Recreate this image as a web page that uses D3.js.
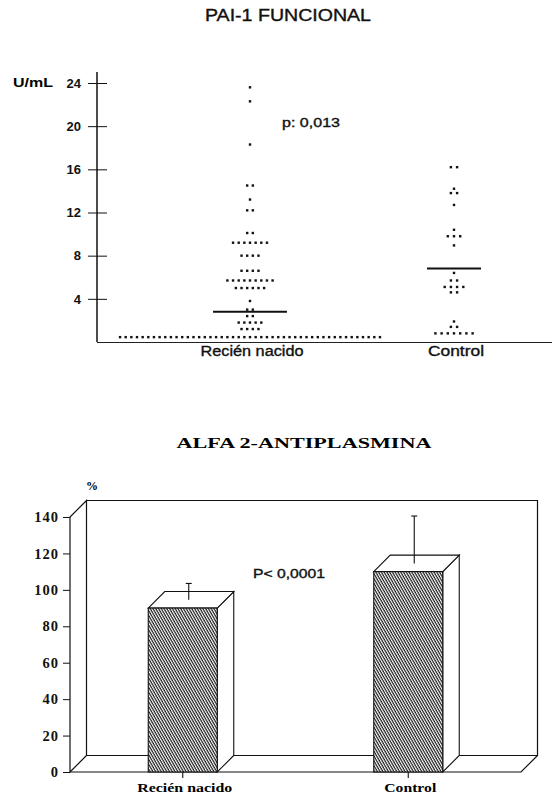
<!DOCTYPE html>
<html>
<head>
<meta charset="utf-8">
<script src="https://cdn.jsdelivr.net/npm/d3@7"></script>
<style>
  body { margin: 0; background: #fff; }
  svg { display: block; }
</style>
</head>
<body>
<svg id="chart" width="557" height="798"></svg>
<script>
// PAI-1 funcional: each row is [value U/mL, number of dots on that row]
const paiCategories = ['Recién nacido', 'Control']
const nacidoRows = [[23.6, 1], [22.3, 1], [18.3, 1], [14.5, 2], [13.2, 1], [12.2, 2], [10.1, 2], [9.2, 7],
  [8.0, 4], [6.6, 4], [5.7, 9], [5.0, 6], [3.8, 1], [3.0, 2], [2.4, 2], [1.8, 5], [1.2, 4], [0.45, 47]]
const controlRows = [[16.2, 2], [14.2, 1], [13.8, 2], [12.7, 1], [10.4, 1], [9.8, 3], [8.95, 1],
  [6.4, 1], [5.7, 2], [5.1, 4], [4.6, 2], [1.9, 1], [1.4, 2], [0.8, 7]]
const paiMeans = [2.8, 6.8]
const paiTicks = [4, 8, 12, 16, 20, 24]

// Alfa 2-antiplasmina (%)
const alfaCategories = ['Recién nacido', 'Control']
const alfaValues = [90, 110]
const alfaErrors = [9, 26]
const alfaTicks = [0, 20, 40, 60, 80, 100, 120, 140]

const svg = d3.select('#chart')
const sans = "'Liberation Sans', Arial, sans-serif"
const serif = "'Liberation Serif', 'Times New Roman', serif"

// medium-weight look for the scanned sans labels
function medium(sel) {
  return sel.attr('fill', '#111').attr('stroke', '#111').attr('stroke-width', 0.35)
}

// ---------- top chart ----------
const y = d3.scaleLinear().domain([0, 24]).range([342, 83])
const x = d3.scalePoint().domain(paiCategories).range([250, 454])
const dotGap = [5.65, 6.2]
const meanHalf = [37, 27]

svg.append('text')
  .attr('x', 288).attr('y', 21)
  .attr('text-anchor', 'middle')
  .attr('font-family', sans).attr('font-size', 16)
  .attr('textLength', 166).attr('lengthAdjust', 'spacingAndGlyphs')
  .text('PAI-1 FUNCIONAL')
  .call(medium)

const yAxis = svg.append('g')
  .attr('transform', 'translate(97,0)')
  .call(d3.axisLeft(y).tickValues(paiTicks).tickSize(9).tickPadding(7))
yAxis.select('.domain').remove()
yAxis.selectAll('.tick line').attr('x1', 10).attr('stroke', '#111')
yAxis.selectAll('.tick text')
  .attr('font-family', sans).attr('font-size', 13).attr('font-weight', 'bold').attr('fill', '#111')

svg.append('line').attr('x1', 97).attr('x2', 97).attr('y1', 72).attr('y2', y(0))
  .attr('stroke', '#111').attr('stroke-width', 1.5)
svg.append('line').attr('x1', 97).attr('x2', 552).attr('y1', y(0) + 0.5).attr('y2', y(0) + 0.5)
  .attr('stroke', '#222').attr('stroke-width', 1.2)

svg.append('text')
  .attr('x', 13).attr('y', 87)
  .attr('font-family', sans).attr('font-size', 12).attr('font-weight', 'bold')
  .attr('textLength', 40).attr('lengthAdjust', 'spacingAndGlyphs')
  .text('U/mL')

const groups = [nacidoRows, controlRows]
groups.forEach((rows, gi) => {
  const cx = x(paiCategories[gi])
  const dots = []
  rows.forEach(([v, n]) => {
    for (let k = 0; k < n; k++) dots.push({ v, off: (k - (n - 1) / 2) * dotGap[gi] })
  })
  svg.append('g').selectAll('rect')
    .data(dots)
    .join('rect')
    .attr('x', d => cx + d.off - 1.2)
    .attr('y', d => y(d.v) - 1.2)
    .attr('width', 2.4).attr('height', 2.4)
    .attr('fill', '#111')

  svg.append('line')
    .attr('x1', cx - meanHalf[gi]).attr('x2', cx + meanHalf[gi])
    .attr('y1', y(paiMeans[gi])).attr('y2', y(paiMeans[gi]))
    .attr('stroke', '#111').attr('stroke-width', 2)
})

svg.append('text')
  .attr('x', 282).attr('y', 127)
  .attr('font-family', sans).attr('font-size', 12.5)
  .attr('textLength', 58).attr('lengthAdjust', 'spacingAndGlyphs')
  .text('p: 0,013')
  .call(medium)

const xLabelW = [103, 56]
paiCategories.forEach((c, i) => {
  svg.append('text')
    .attr('x', x(c) + 2).attr('y', 356)
    .attr('text-anchor', 'middle')
    .attr('font-family', sans).attr('font-size', 14)
    .attr('textLength', xLabelW[i]).attr('lengthAdjust', 'spacingAndGlyphs')
    .text(c)
    .call(medium)
})

// ---------- bottom chart (3D bars) ----------
const yB = d3.scaleLinear().domain([0, 140]).range([772, 517])
const xB = d3.scalePoint().domain(alfaCategories).range([70, 521]).padding(0.5)
const depth = 16.5
const barW = 69
const left = 70, right = 521
const y0 = yB(0), yTop = yB(140)

svg.append('text')
  .attr('x', 304).attr('y', 448)
  .attr('text-anchor', 'middle')
  .attr('font-family', serif).attr('font-size', 15).attr('font-weight', 'bold')
  .attr('textLength', 255).attr('lengthAdjust', 'spacingAndGlyphs')
  .text('ALFA 2-ANTIPLASMINA')

const defs = svg.append('defs')
const pat = defs.append('pattern')
  .attr('id', 'hatch').attr('patternUnits', 'userSpaceOnUse')
  .attr('width', 2.4).attr('height', 10)
  .attr('patternTransform', 'rotate(-30)')
pat.append('rect').attr('width', 2.4).attr('height', 10).attr('fill', '#fff')
pat.append('line').attr('x1', 1).attr('x2', 1).attr('y1', 0).attr('y2', 10)
  .attr('stroke', '#1a1a1a').attr('stroke-width', 1.2)

const frame = svg.append('g').attr('fill', 'none').attr('stroke', '#111').attr('stroke-width', 1.2)
// left wall
frame.append('path').attr('d', `M${left},${y0}L${left},${yTop}L${left + depth},${yTop - depth}L${left + depth},${y0 - depth}Z`)
// back wall
frame.append('path').attr('d', `M${left + depth},${yTop - depth}L${right + depth},${yTop - depth}L${right + depth},${y0 - depth}L${left + depth},${y0 - depth}`)
// floor
frame.append('path').attr('d', `M${left},${y0}L${right},${y0}L${right + depth},${y0 - depth}`)

const yAxisB = svg.append('g')
  .attr('transform', `translate(${left},0)`)
  .call(d3.axisLeft(yB).tickValues(alfaTicks).tickSize(7).tickPadding(4))
yAxisB.select('.domain').remove()
yAxisB.selectAll('.tick line').attr('stroke', '#111')
yAxisB.selectAll('.tick text')
  .attr('font-family', serif).attr('font-size', 14.5).attr('font-weight', 'bold').attr('fill', '#111')
  .attr('letter-spacing', 1)

svg.append('text')
  .attr('x', 92).attr('y', 490)
  .attr('text-anchor', 'middle')
  .attr('font-family', serif).attr('font-size', 12).attr('font-weight', 'bold')
  .text('%')

const bars = svg.append('g')
alfaCategories.forEach((c, i) => {
  const x0 = xB(c) - barW / 2, x1 = xB(c) + barW / 2
  const yt = yB(alfaValues[i])
  const g = bars.append('g').attr('stroke', '#111').attr('stroke-width', 1.1)
  // side face
  g.append('path').attr('fill', '#fff')
    .attr('d', `M${x1},${yt}L${x1 + depth},${yt - depth}L${x1 + depth},${y0 - depth}L${x1},${y0}Z`)
  // top face
  g.append('path').attr('fill', '#fff')
    .attr('d', `M${x0},${yt}L${x0 + depth},${yt - depth}L${x1 + depth},${yt - depth}L${x1},${yt}Z`)
  // front face
  g.append('rect').attr('x', x0).attr('y', yt).attr('width', barW).attr('height', y0 - yt)
    .attr('fill', 'url(#hatch)')
  // error bar (mid depth)
  const ex = xB(c) + 6
  const eTop = yB(alfaValues[i] + alfaErrors[i]) - depth / 2
  g.append('line').attr('x1', ex).attr('x2', ex).attr('y1', yt - depth / 2).attr('y2', eTop)
  g.append('line').attr('x1', ex - 3).attr('x2', ex + 3).attr('y1', eTop).attr('y2', eTop)
  // x tick
  g.append('line').attr('x1', xB(c)).attr('x2', xB(c)).attr('y1', y0).attr('y2', y0 + 6)
})

svg.append('text')
  .attr('x', 253).attr('y', 578)
  .attr('font-family', sans).attr('font-size', 12)
  .attr('textLength', 72).attr('lengthAdjust', 'spacingAndGlyphs')
  .text('P< 0,0001')
  .call(medium)

const xLabelWB = [95, 52]
alfaCategories.forEach((c, i) => {
  svg.append('text')
    .attr('x', xB(c) + 2).attr('y', 792)
    .attr('text-anchor', 'middle')
    .attr('font-family', serif).attr('font-size', 13).attr('font-weight', 'bold')
    .attr('textLength', xLabelWB[i]).attr('lengthAdjust', 'spacingAndGlyphs')
    .text(c)
})
</script>
</body>
</html>
